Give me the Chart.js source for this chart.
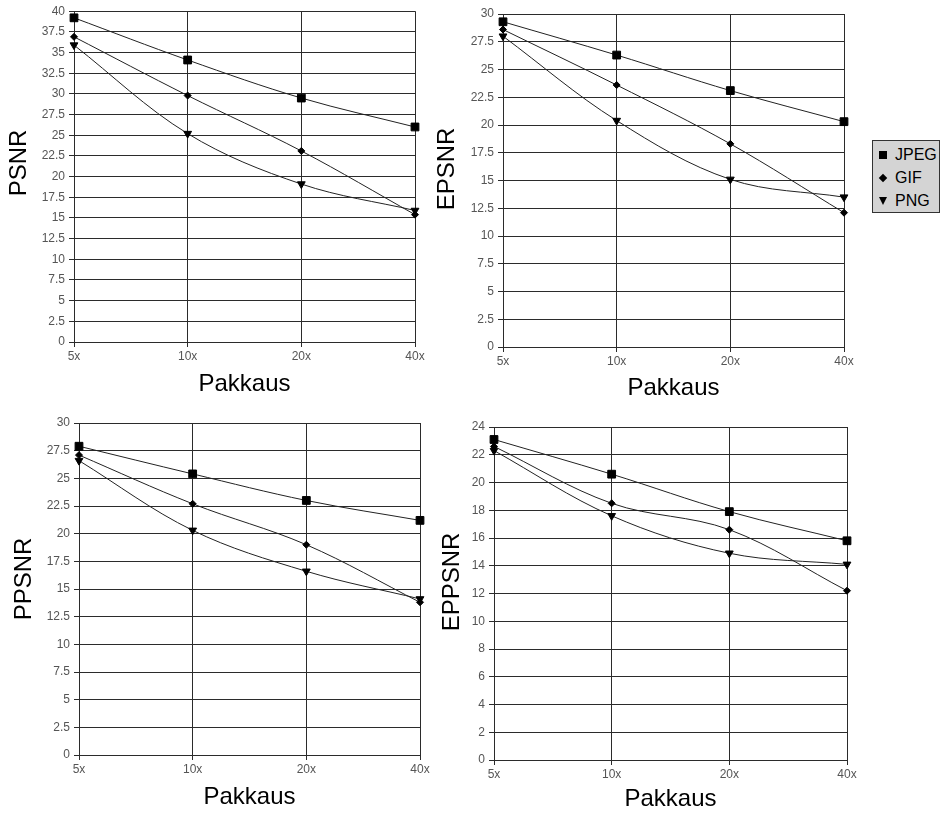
<!DOCTYPE html>
<html>
<head>
<meta charset="utf-8">
<script src="https://cdn.jsdelivr.net/npm/chart.js@4.4.0/dist/chart.umd.min.js"></script>
<style>
  body {
    margin: 0;
    width: 941px;
    height: 816px;
    overflow: hidden;
    position: relative;
    background: #fff;
    font-family: "Liberation Sans", Arial, sans-serif;
  }
  canvas { position: absolute; }
  .legend {
    position: absolute;
    left: 872px;
    top: 140px;
    width: 66px;
    height: 71px;
    background: #d4d4d4;
    border: 1px solid #333;
  }
  .legend .row {
    position: absolute;
    left: 22px;
    height: 20px;
    line-height: 20px;
    font-size: 16px;
    color: #000;
  }
  .legend .mark { position: absolute; left: -16px; }
  .sq { top: 6px; width: 8px; height: 8px; background: #000; }
  .di { top: 7px; width: 6px; height: 6px; background: #000; transform: rotate(45deg); left: -15px !important; }
  .tr { top: 6px; width: 0; height: 0; border-left: 4px solid transparent; border-right: 4px solid transparent; border-top: 8px solid #000; }
</style>
</head>
<body>
<canvas id="psnr"></canvas>
<canvas id="epsnr"></canvas>
<canvas id="ppsnr"></canvas>
<canvas id="eppsnr"></canvas>

<div class="legend">
  <div class="row" style="top:4px"><span class="mark sq"></span>JPEG</div>
  <div class="row" style="top:27px"><span class="mark di"></span>GIF</div>
  <div class="row" style="top:50px"><span class="mark tr"></span>PNG</div>
</div>

<script>
// compression levels on the x axis
const categories = ["5x", "10x", "20x", "40x"];
const seriesNames = ["JPEG", "GIF", "PNG"];

// PSNR (top left)
const psnrJpeg = [39.2, 34.1, 29.5, 26.0];
const psnrGif = [36.9, 29.8, 23.1, 15.4];
const psnrPng = [35.9, 25.2, 19.1, 15.9];

// EPSNR (top right)
const epsnrJpeg = [29.3, 26.3, 23.1, 20.3];
const epsnrGif = [28.6, 23.6, 18.3, 12.1];
const epsnrPng = [28.0, 20.4, 15.1, 13.5];

// PPSNR (bottom left)
const ppsnrJpeg = [27.9, 25.4, 23.0, 21.2];
const ppsnrGif = [27.1, 22.7, 19.0, 13.8];
const ppsnrPng = [26.6, 20.3, 16.6, 14.1];

// EPPSNR (bottom right)
const eppsnrJpeg = [23.1, 20.6, 17.9, 15.8];
const eppsnrGif = [22.6, 18.5, 16.6, 12.2];
const eppsnrPng = [22.3, 17.6, 14.9, 14.1];

const gridColor = "#2b2b2b";
const fontFamily = "'Liberation Sans', Arial, sans-serif";
const tickFont = { family: fontFamily, size: 12 };
const titleFont = { family: fontFamily, size: 24 };

// marker for each series
const markers = [
    { pointStyle: "rect", radius: 5.5, rotation: 0 },
    { pointStyle: "rectRot", radius: 3.5, rotation: 0 },
    { pointStyle: "triangle", radius: 4.5, rotation: 180 },
];

// y axis title sits a bit above the middle of the axis in the original,
// so it is drawn here instead of with the scale title
const yTitlePlugin = {
    id: "yTitle",
    afterDraw(chart, args, opts) {
        const ctx = chart.ctx;
        ctx.save();
        ctx.translate(opts.x, opts.y);
        ctx.rotate(-Math.PI / 2);
        ctx.font = "24px " + fontFamily;
        ctx.fillStyle = "#000";
        ctx.textAlign = "center";
        ctx.textBaseline = "middle";
        ctx.fillText(opts.text, 0, 0);
        ctx.restore();
    },
};

function makeChart(id, box, plot, yTitle, yMax, yStep, series) {
    const el = document.getElementById(id);
    el.width = box.w;
    el.height = box.h;
    el.style.left = box.x + "px";
    el.style.top = box.y + "px";

    // fixed axis sizes so the plot areas line up with the reference
    const axisW = plot.left - box.x;
    const axisH = box.y + box.h - plot.bottom;

    const datasets = series.map((values, i) => ({
        label: seriesNames[i],
        data: values,
        borderColor: "#222",
        borderWidth: 1,
        tension: 0.35,
        pointStyle: markers[i].pointStyle,
        pointRadius: markers[i].radius,
        pointRotation: markers[i].rotation,
        pointBackgroundColor: "#000",
        pointBorderColor: "#000",
        pointBorderWidth: 1,
    }));

    return new Chart(el, {
        type: "line",
        data: { labels: categories, datasets: datasets },
        plugins: [yTitlePlugin],
        options: {
            responsive: false,
            animation: false,
            layout: {
                padding: {
                    top: plot.top - box.y,
                    right: box.x + box.w - plot.right,
                    left: 0,
                    bottom: 0,
                },
            },
            plugins: {
                legend: { display: false },
                tooltip: { enabled: false },
                yTitle: { text: yTitle.text, x: yTitle.x - box.x, y: yTitle.y - box.y },
            },
            scales: {
                x: {
                    grid: { color: gridColor, tickLength: 5 },
                    border: { color: gridColor },
                    ticks: { font: tickFont, color: "#555", maxRotation: 0, padding: 2 },
                    title: {
                        display: true,
                        text: "Pakkaus",
                        font: titleFont,
                        color: "#000",
                        padding: { top: 0, bottom: 2 },
                    },
                    afterFit: (scale) => {
                        scale.height = axisH;
                    },
                },
                y: {
                    min: 0,
                    max: yMax,
                    grid: { color: gridColor, tickLength: 5 },
                    border: { color: gridColor },
                    ticks: { stepSize: yStep, font: tickFont, color: "#555", padding: 4 },
                    afterFit: (scale) => {
                        scale.width = axisW;
                    },
                },
            },
        },
    });
}

makeChart("psnr",
    { x: 1, y: 0, w: 440, h: 401 },
    { left: 74, top: 9, right: 415, bottom: 342 },
    { text: "PSNR", x: 19, y: 163 }, 40, 2.5, [psnrJpeg, psnrGif, psnrPng]);

makeChart("epsnr",
    { x: 429, y: 0, w: 440, h: 405 },
    { left: 503, top: 14, right: 844, bottom: 347 },
    { text: "EPSNR", x: 447, y: 169 }, 30, 2.5, [epsnrJpeg, epsnrGif, epsnrPng]);

makeChart("ppsnr",
    { x: 6, y: 395, w: 440, h: 419 },
    { left: 79, top: 423, right: 420, bottom: 755 },
    { text: "PPSNR", x: 24, y: 579 }, 30, 2.5, [ppsnrJpeg, ppsnrGif, ppsnrPng]);

makeChart("eppsnr",
    { x: 434, y: 399, w: 440, h: 417 },
    { left: 494, top: 427, right: 847, bottom: 760 },
    { text: "EPPSNR", x: 452, y: 582 }, 24, 2, [eppsnrJpeg, eppsnrGif, eppsnrPng]);
</script>
</body>
</html>
